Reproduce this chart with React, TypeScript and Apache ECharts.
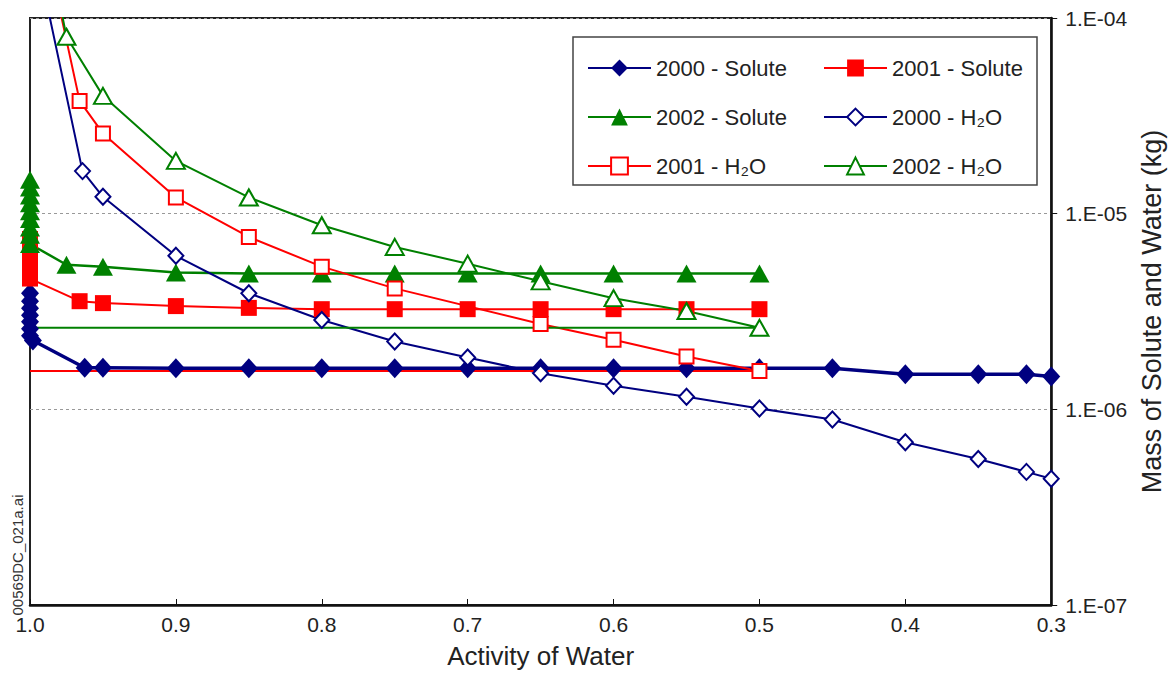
import React, { useEffect, useRef } from "react";
import * as echarts from "echarts";

const NAVY = "#000080";
const RED = "#ff0000";
const GREEN = "#008000";
const FONT = "'Liberation Sans', Arial, sans-serif";

// x: activity of water, y: mass (kg)
const solute2000X = [1.0, 1.0, 1.0, 1.0, 1.0, 1.0, 1.0, 0.998, 0.9625, 0.95, 0.9, 0.85, 0.8, 0.75, 0.7, 0.65, 0.6, 0.55, 0.5, 0.45, 0.4, 0.35, 0.317, 0.3];
const solute2000Y = [3.92e-6, 3.57e-6, 3.29e-6, 3.03e-6, 2.8e-6, 2.58e-6, 2.38e-6, 2.25e-6, 1.63e-6, 1.63e-6, 1.62e-6, 1.62e-6, 1.62e-6, 1.62e-6, 1.62e-6, 1.62e-6, 1.62e-6, 1.62e-6, 1.62e-6, 1.62e-6, 1.51e-6, 1.51e-6, 1.51e-6, 1.47e-6];

const solute2001X = [1.0, 1.0, 1.0, 1.0, 1.0, 1.0, 0.966, 0.95, 0.9, 0.85, 0.8, 0.75, 0.7, 0.65, 0.6, 0.55, 0.5];
const solute2001Y = [7.42e-6, 6.76e-6, 6.16e-6, 5.61e-6, 5.12e-6, 4.66e-6, 3.57e-6, 3.49e-6, 3.37e-6, 3.3e-6, 3.25e-6, 3.25e-6, 3.25e-6, 3.25e-6, 3.25e-6, 3.25e-6, 3.25e-6];

const solute2002X = [1.0, 1.0, 1.0, 1.0, 1.0, 1.0, 1.0, 1.0, 1.0, 0.975, 0.95, 0.9, 0.85, 0.8, 0.75, 0.7, 0.65, 0.6, 0.55, 0.5];
const solute2002Y = [1.49e-5, 1.36e-5, 1.24e-5, 1.13e-5, 1.03e-5, 9.4e-6, 8.5e-6, 7.8e-6, 7.0e-6, 5.48e-6, 5.36e-6, 5.0e-6, 4.95e-6, 4.95e-6, 4.95e-6, 4.95e-6, 4.95e-6, 4.95e-6, 4.95e-6, 4.95e-6];

const h2o2000X = [0.99, 0.964, 0.95, 0.9, 0.85, 0.8, 0.75, 0.7, 0.65, 0.6, 0.55, 0.5, 0.45, 0.4, 0.35, 0.317, 0.3];
const h2o2000Y = [1.34e-4, 1.65e-5, 1.22e-5, 6.09e-6, 3.92e-6, 2.86e-6, 2.22e-6, 1.84e-6, 1.53e-6, 1.32e-6, 1.16e-6, 1.01e-6, 8.87e-7, 6.79e-7, 5.57e-7, 4.79e-7, 4.42e-7];

const h2o2001X = [0.985, 0.966, 0.95, 0.9, 0.85, 0.8, 0.75, 0.65, 0.6, 0.55, 0.5];
const h2o2001Y = [1.7e-4, 3.77e-5, 2.57e-5, 1.21e-5, 7.6e-6, 5.36e-6, 4.15e-6, 2.73e-6, 2.27e-6, 1.86e-6, 1.57e-6];

const h2o2002X = [0.985, 0.975, 0.95, 0.9, 0.85, 0.8, 0.75, 0.7, 0.65, 0.6, 0.55, 0.5];
const h2o2002Y = [1.9e-4, 8.02e-5, 4.0e-5, 1.86e-5, 1.21e-5, 8.73e-6, 6.76e-6, 5.55e-6, 4.51e-6, 3.7e-6, 3.18e-6, 2.61e-6];

const xTicks = [1.0, 0.3, 0.1]; // max, min, interval
const yRange = [1e-7, 1e-4];

function pairs(xs: number[], ys: number[], returnToStart = false) {
  const d: any[] = xs.map((x, i) => [x, ys[i]]);
  if (returnToStart) {
    d.push({ value: [xTicks[0], ys[ys.length - 1]], symbol: "none" });
  }
  return d;
}

function mk(name: string, color: string, symbol: string, size: any, lw: number, data: any[], empty: boolean) {
  return {
    name,
    type: "line",
    data,
    symbol,
    symbolSize: size,
    showAllSymbol: true,
    clip: true,
    lineStyle: { color, width: lw },
    itemStyle: { color, borderColor: color, borderWidth: empty ? 2 : 0 },
    emphasis: { disabled: true },
  };
}

export default function App() {
  const ref = useRef<HTMLDivElement>(null);
  useEffect(() => {
    const chart = echarts.init(ref.current!, null, { renderer: "svg" });
    const series = [
      mk("2000 - Solute", NAVY, "diamond", [18, 20], 3.5, pairs(solute2000X, solute2000Y), false),
      mk("2001 - Solute", RED, "rect", 16, 2, pairs(solute2001X, solute2001Y), false),
      mk("2002 - Solute", GREEN, "triangle", [20, 18], 2.5, pairs(solute2002X, solute2002Y), false),
      mk("2000 - H₂O", NAVY, "emptyDiamond", [15, 16], 2, pairs(h2o2000X, h2o2000Y), true),
      mk("2001 - H₂O", RED, "emptyRect", 14, 2, pairs(h2o2001X, h2o2001Y, true), true),
      mk("2002 - H₂O", GREEN, "emptyTriangle", [18, 16], 2, pairs(h2o2002X, h2o2002Y, true), true),
    ];
    const legendCommon = {
      orient: "vertical",
      itemWidth: 63,
      itemHeight: 21,
      itemGap: 27,
      padding: 0,
      selectedMode: false,
      textStyle: { fontSize: 22, color: "#222", fontFamily: FONT },
    };
    chart.setOption({
      animation: false,
      backgroundColor: "#fff",
      grid: {
        left: 30,
        right: 116,
        top: 18,
        bottom: 61,
        show: true,
        borderColor: "#222",
        borderWidth: 2,
      },
      legend: [
        { ...legendCommon, left: 587, top: 57, data: ["2000 - Solute", "2002 - Solute", "2001 - H₂O"] },
        { ...legendCommon, left: 823, top: 57, data: ["2001 - Solute", "2000 - H₂O", "2002 - H₂O"] },
      ],
      xAxis: {
        type: "value",
        inverse: true,
        min: xTicks[1],
        max: xTicks[0],
        interval: xTicks[2],
        name: "Activity of Water",
        nameLocation: "middle",
        nameGap: 38,
        nameTextStyle: { fontSize: 26, color: "#222", fontFamily: FONT },
        axisLine: { lineStyle: { color: "#111", width: 2.5 } },
        axisTick: { inside: true, length: 6, lineStyle: { color: "#111", width: 1 } },
        axisLabel: {
          fontSize: 21,
          color: "#222",
          fontFamily: FONT,
          margin: 9,
          formatter: (v: number) => v.toFixed(1),
        },
        splitLine: { show: false },
      },
      yAxis: {
        type: "log",
        logBase: 10,
        position: "right",
        min: yRange[0],
        max: yRange[1],
        name: "Mass of Solute and Water (kg)",
        nameLocation: "middle",
        nameGap: 60,
        nameRotate: 90,
        nameTextStyle: { fontSize: 27, color: "#222", fontFamily: FONT },
        axisLine: { show: true, lineStyle: { color: "#111", width: 2.5 } },
        axisTick: { show: true, inside: false, length: 6, lineStyle: { color: "#111", width: 1 } },
        minorTick: { show: false },
        axisLabel: {
          fontSize: 21,
          color: "#222",
          fontFamily: FONT,
          margin: 14,
          formatter: (v: number) => {
            const e = Math.round(Math.log10(v));
            const a = Math.abs(e);
            return "1.E" + (e < 0 ? "-" : "+") + (a < 10 ? "0" + a : String(a));
          },
        },
        splitLine: { show: true, lineStyle: { color: "#999", width: 1, type: [3, 3] } },
      },
      graphic: [
        {
          type: "rect",
          shape: { x: 573, y: 37, width: 464, height: 148 },
          style: { fill: "none", stroke: "#444", lineWidth: 1.5 },
          z: 1,
        },
        {
          type: "text",
          x: 17,
          y: 555,
          rotation: Math.PI / 2,
          style: {
            text: "00569DC_021a.ai",
            fontSize: 15,
            fontFamily: FONT,
            fill: "#333",
            align: "center",
            verticalAlign: "middle",
          },
        },
      ],
      series,
    });
    return () => chart.dispose();
  }, []);
  return (
    <div
      ref={ref}
      style={{ position: "fixed", left: 0, top: 0, width: 1173, height: 674, background: "#fff" }}
    />
  );
}
